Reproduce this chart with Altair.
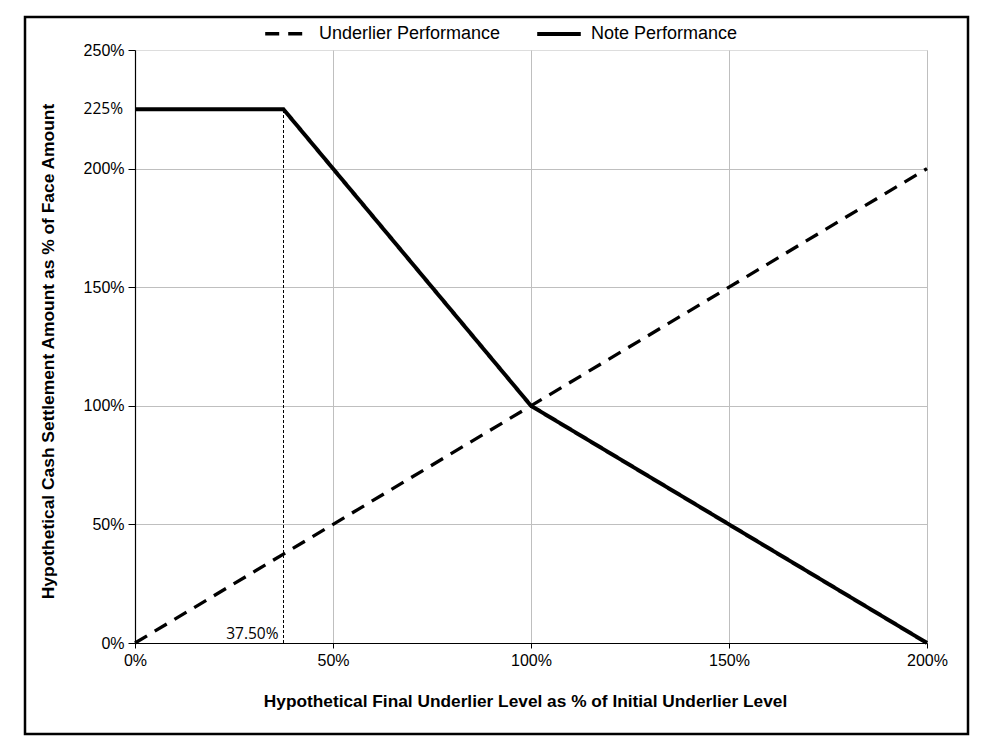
import altair as alt
import pandas as pd

# Data
under_x = [0, 200]
under_y = [0, 200]
note_x = [0, 37.5, 100, 200]
note_y = [225, 225, 100, 0]
series = ["Underlier Performance", "Note Performance"]
cap_x = 37.5
cap_y = 225

rows = []
for i, (x, y) in enumerate(zip(under_x, under_y)):
    rows.append({"x": x, "y": y, "s": series[0], "o": i})
for i, (x, y) in enumerate(zip(note_x, note_y)):
    rows.append({"x": x, "y": y, "s": series[1], "o": i})
df = pd.DataFrame(rows)

FONT = "Liberation Sans"
ANNOT_FONT = "Open Sans"

xscale = alt.Scale(domain=[0, 200], nice=False)
yscale = alt.Scale(domain=[0, 250], nice=False)

xaxis = alt.Axis(
    values=[0, 50, 100, 150, 200], labelExpr="datum.value + '%'", labelFlush=False,
    title="Hypothetical Final Underlier Level as % of Initial Underlier Level",
    titleX=390, titleY=58, titleAlign="center", titleBaseline="middle",
    titleFont=FONT, titleFontSize=17.3, titleFontWeight="bold", titleColor="black",
    labelFont=FONT, labelFontSize=16, labelColor="black", labelPadding=4,
    tickColor="black", tickSize=5, domainColor="black", domainWidth=1.2,
    gridColor="#bfbfbf", gridWidth=1,
)
yaxis = alt.Axis(
    values=[0, 50, 100, 150, 200, 250], labelExpr="datum.value + '%'", labelFlush=False,
    title="Hypothetical Cash Settlement Amount as % of Face Amount",
    titleX=-87, titleY=301, titleAngle=270, titleAlign="center", titleBaseline="middle",
    titleFont=FONT, titleFontSize=17.4, titleFontWeight="bold", titleColor="black",
    labelFont=FONT, labelFontSize=16, labelColor="black", labelPadding=4,
    tickColor="black", tickSize=7, domainColor="black", domainWidth=1.2,
    gridColor="#bfbfbf", gridWidth=1,
    gridOpacity=alt.condition("datum.value == 250", alt.value(0), alt.value(1)),
)

legend_cfg = dict(title=None, orient="none", legendX=128, legendY=-40,
                  direction="horizontal", columns=2, columnPadding=28,
                  symbolType="stroke", symbolSize=1900, symbolStrokeWidth=3.5,
                  labelFont=FONT, labelFontSize=18, labelColor="black",
                  labelOffset=8, labelLimit=400, padding=0)

lines = alt.Chart(df).mark_line(clip=False).encode(
    x=alt.X("x:Q", scale=xscale, axis=xaxis),
    y=alt.Y("y:Q", scale=yscale, axis=yaxis),
    order="o:Q",
    color=alt.Color("s:N", scale=alt.Scale(domain=series, range=["black", "black"]),
                    legend=alt.Legend(**legend_cfg)),
    strokeDash=alt.StrokeDash("s:N", scale=alt.Scale(domain=series, range=[[14, 9], [1, 0]]),
                              legend=alt.Legend(**legend_cfg)),
    strokeWidth=alt.StrokeWidth("s:N", scale=alt.Scale(domain=series, range=[3.3, 4]),
                                legend=None),
)

cap_df = pd.DataFrame({"x": [cap_x], "y0": [0], "y1": [cap_y]})
cap_rule = alt.Chart(cap_df).mark_rule(color="black", strokeWidth=1, strokeDash=[3, 2]).encode(
    x="x:Q", y="y0:Q", y2="y1:Q"
)
cap_text = alt.Chart(cap_df).mark_text(
    align="right", baseline="bottom", dx=-5, dy=-1, font=ANNOT_FONT, fontSize=15.5, color="black"
).encode(x="x:Q", y="y0:Q", text=alt.value("37.50%"))

lvl_df = pd.DataFrame({"y": [cap_y]})
lvl_text = alt.Chart(lvl_df).mark_text(
    align="right", baseline="middle", font=ANNOT_FONT, fontSize=15.5, color="black"
).encode(x=alt.value(-12), y="y:Q", text=alt.value("225%"))

border = alt.Chart(pd.DataFrame({"a": [0]})).mark_rect(
    fill=None, stroke="black", strokeWidth=2.5, clip=False
).encode(x=alt.value(-110), x2=alt.value(833), y=alt.value(-33), y2=alt.value(684))

chart = alt.layer(cap_rule, lines, cap_text, lvl_text, border).properties(
    width=792, height=593,
    autosize=alt.AutoSizeParams(type="none"),
    padding={"left": 127, "top": 42, "right": 62, "bottom": 102},
).configure_view(stroke=None).configure(background="white")

chart.save("out.html", embed_options={"renderer": "svg", "actions": False})
